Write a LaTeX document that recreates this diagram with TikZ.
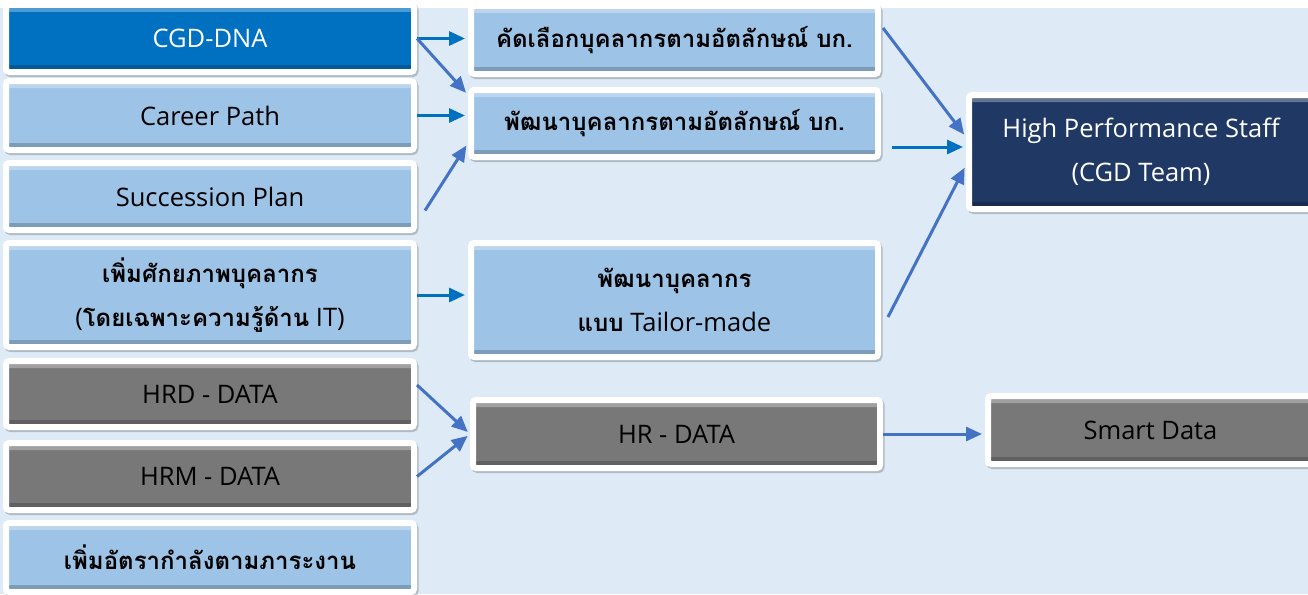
\documentclass[tikz,border=0pt]{standalone}
\usepackage{fontspec}
\setmainfont{Open Sans}
\newfontfamily\thaifont[Script=Thai]{Loma}
\newcommand{\thai}{\fontsize{24}{44}\thaifont\bfseries}
\usetikzlibrary{arrows.meta,shadows}

\definecolor{bgblue}{HTML}{DEEAF6}
\definecolor{boxblue}{HTML}{9DC3E6}
\definecolor{dnablue}{HTML}{0070C0}
\definecolor{navy}{HTML}{203864}
\definecolor{boxgray}{HTML}{787878}
\definecolor{arrowblue}{HTML}{4472C4}

\begin{document}
\begin{tikzpicture}[x=1pt, y=-1pt]
        \tikzstyle{box}=[draw=white, line width=6pt, rounded corners=3pt, inner sep=0pt, align=center,
            font=\fontsize{25.5}{44}\selectfont,
            drop shadow={opacity=0.2, shadow xshift=1.5pt, shadow yshift=-2pt, draw=black, line width=6pt},
            path picture={
              \fill[white, opacity=0.3] (path picture bounding box.north west) rectangle ([yshift=-7pt]path picture bounding box.north east);
              \fill[black, opacity=0.2] (path picture bounding box.south west) rectangle ([yshift=7pt]path picture bounding box.south east);
            }];
        \tikzstyle{bluebox}=[box, fill=boxblue];
        \tikzstyle{dnabox}=[box, fill=dnablue, text=white];
        \tikzstyle{navybox}=[box, fill=navy, text=white];
        \tikzstyle{graybox}=[box, fill=boxgray];
        \tikzstyle{arr}=[line width=3pt, -{Triangle[length=16pt, width=14pt]}, shorten >=3pt, color=dnablue];
        \tikzstyle{arr_light}=[arr, color=arrowblue];

        \useasboundingbox (0,0) rectangle (1308,594);
        \fill[bgblue] (0,8) rectangle (1308,594);

        % left column
        \foreach \n/\y/\h/\s/\txt in {dna/38.5/67/dnabox/CGD-DNA,
                                       career/115.5/69/bluebox/Career Path,
                                       succ/196.5/67/bluebox/Succession Plan,
                                       skill/295/104/bluebox/{{\thai เพิ่มศักยภาพบุคลากร}\\({\thai โดยเฉพาะความรู้ด้าน} IT)},
                                       hrd/394/66/graybox/HRD - DATA,
                                       hrm/476.5/67/graybox/HRM - DATA,
                                       rate/557.5/69/bluebox/{\thai เพิ่มอัตรากำลังตามภาระงาน}}{
          \node[\s, minimum width=408, minimum height=\h] (\n) at (210, \y) {\txt};
        }

        % middle column
        \node[bluebox, minimum width=407, minimum height=68] (sel) at (674.5, 40) {\thai คัดเลือกบุคลากรตามอัตลักษณ์ บก.};
        \node[bluebox, minimum width=407, minimum height=67] (dev) at (674.5, 123.5) {\thai พัฒนาบุคลากรตามอัตลักษณ์ บก.};
        \node[bluebox, minimum width=407, minimum height=114] (tailor) at (674.5, 300) {{\thai พัฒนาบุคลากร}\\{\thai แบบ} Tailor-made};
        \node[graybox, minimum width=407, minimum height=68] (hr) at (676.5, 434) {HR - DATA};

        % right column
        \node[navybox, minimum width=344, minimum height=114] (hps) at (1141, 152) {High Performance Staff\\(CGD Team)};
        \node[graybox, minimum width=325, minimum height=68] (smart) at (1150.5, 430) {Smart Data};

        % arrows into the middle
        \draw[arr] (dna.east) -- (dna.east -| sel.west);
        \draw[arr_light] (dna.east) -- ([yshift=-8pt]dev.north west);
        \draw[arr] (career.east) -- (career.east -| dev.west);
        \draw[arr_light] ([shift={(8pt,-14pt)}]succ.east) -- ([yshift=17pt]dev.south west);
        \draw[arr] (skill.east) -- (skill.east -| tailor.west);
        \draw[arr_light] ([yshift=9pt]hrd.east) -- (hr.west);
        \draw[arr_light] (hrm.east) -- (hr.west);

        % arrows to the right
        \draw[arr_light] ([shift={(2pt,12pt)}]sel.east) -- ([yshift=15pt]hps.west);
        \draw[arr] ([xshift=11pt,yshift=5pt]dev.east |- hps.west) -- ([yshift=5pt]hps.west);
        \draw[arr_light] ([shift={(7pt,-17pt)}]tailor.east) -- ([yshift=-13pt]hps.west);
        \draw[arr_light] (hr.east) -- (hr.east -| smart.west);
\end{tikzpicture}
\end{document}
